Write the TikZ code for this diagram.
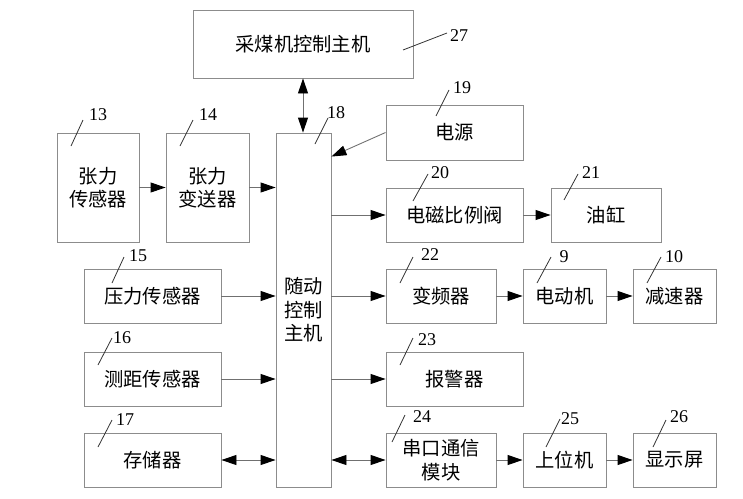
\documentclass[tikz,border=0pt]{standalone}
\usepackage{fontspec}
\setmainfont{Liberation Serif}
\newfontfamily\cjk{Noto Sans CJK SC}
\usetikzlibrary{arrows.meta,calc}
\definecolor{boxgray}{HTML}{8C8C8C}
\definecolor{linegray}{HTML}{707070}
\begin{document}
\begin{tikzpicture}[x=1pt,y=-1pt,
 box/.style={draw=boxgray, line width=0.9pt, inner sep=0pt, align=center, font=\cjk\fontsize{19.3}{23.5}\selectfont},
 conn/.style={draw=linegray, line width=0.9pt, -{Triangle[length=15pt,width=10pt,black]}},
 dconn/.style={draw=linegray, line width=0.9pt, {Triangle[length=15pt,width=10pt,black]}-{Triangle[length=15pt,width=10pt,black]}},
 lead/.style={draw=black!80, line width=0.8pt},
 num/.style={inner sep=0pt, font=\fontsize{18}{18}\selectfont}]
\useasboundingbox (0,0) rectangle (743,498);
% boxes
\node[box, minimum width=220, minimum height=68] (b27) at (303,44) {采煤机控制主机};
\node[box, minimum width=55, minimum height=354] (b18) at (303.5,310) {随动\\控制\\主机};
\node[box, minimum width=137, minimum height=55] (b19) at (454.5,132.5) {电源};
\node[box, minimum width=82, minimum height=109] (b13) at (98,187.5) {张力\\传感器};
\node[box, minimum width=83, minimum height=109] (b14) at (207.5,187.5) {张力\\变送器};
\node[box, minimum width=137, minimum height=54] (b15) at (152.5,296) {压力传感器};
\node[box, minimum width=137, minimum height=54] (b16) at (152.5,379) {测距传感器};
\node[box, minimum width=137, minimum height=54] (b17) at (152.5,460) {存储器};
\node[box, minimum width=137, minimum height=54] (b20) at (454.5,215) {电磁比例阀};
\node[box, minimum width=110, minimum height=54] (b21) at (606,215) {油缸};
\node[box, minimum width=110, minimum height=54] (b22) at (441,296) {变频器};
\node[box, minimum width=83, minimum height=54] (b9) at (564.5,296) {电动机};
\node[box, minimum width=83, minimum height=54] (b10) at (674.5,296) {减速器};
\node[box, minimum width=137, minimum height=54] (b23) at (454.5,379) {报警器};
\node[box, minimum width=110, minimum height=54] (b24) at (441,460) {串口通信\\模块};
\node[box, minimum width=83, minimum height=54] (b25) at (564.5,460) {上位机};
\node[box, minimum width=83, minimum height=54] (b26) at (674.5,460) {显示屏};
% connectors
\draw[dconn] (b27.south) -- (b27.south |- b18.north);
\coordinate (p18) at ($(b18.north east)+(0,24)$);
\draw[conn] (b19.west) -- (p18);
\draw[conn] (b13.east) -- (b14.west);
\draw[conn] (b14.east) -- (b14.east -| b18.west);
\draw[conn] (b15.east) -- (b15.east -| b18.west);
\draw[conn] (b16.east) -- (b16.east -| b18.west);
\draw[dconn] (b17.east) -- (b17.east -| b18.west);
\draw[conn] (b20.west -| b18.east) -- (b20.west);
\draw[conn] (b20.east) -- (b21.west);
\draw[conn] (b22.west -| b18.east) -- (b22.west);
\draw[conn] (b22.east) -- (b9.west);
\draw[conn] (b9.east) -- (b10.west);
\draw[conn] (b23.west -| b18.east) -- (b23.west);
\draw[dconn] (b24.west -| b18.east) -- (b24.west);
\draw[conn] (b24.east) -- (b25.west);
\draw[conn] (b25.east) -- (b26.west);
% leaders and numbers
\draw[lead] (403,50) -- (447,33);  \node[num] (n27) at (459,36) {27};
\draw[lead] (436,116) -- (449,90); \node[num] (n19) at (462,88) {19};
\draw[lead] (315,144) -- (328,118); \node[num] (n18) at (336,113) {18};
\draw[lead] (71,146) -- (83,120);  \node[num] (n13) at (98,115) {13};
\draw[lead] (180,146) -- (193,120); \node[num] (n14) at (208,115) {14};
\draw[lead] (112,283) -- (124,257); \node[num] (n15) at (138,256) {15};
\draw[lead] (98,365) -- (112,338);  \node[num] (n16) at (122,338) {16};
\draw[lead] (98,447) -- (112,420);  \node[num] (n17) at (125,420) {17};
\draw[lead] (413,201) -- (428,174); \node[num] (n20) at (440,173) {20};
\draw[lead] (564,200) -- (578,174); \node[num] (n21) at (591,173) {21};
\draw[lead] (400,283) -- (413,257); \node[num] (n22) at (430,255) {22};
\draw[lead] (537,283) -- (551,257); \node[num] (n9) at (564,257) {9};
\draw[lead] (647,283) -- (661,257); \node[num] (n10) at (674,257) {10};
\draw[lead] (400,365) -- (413,338); \node[num] (n23) at (427,340) {23};
\draw[lead] (392,442) -- (405,415); \node[num] (n24) at (422,417) {24};
\draw[lead] (546,447) -- (560,419); \node[num] (n25) at (570,419) {25};
\draw[lead] (653,447) -- (666,420); \node[num] (n26) at (679,417) {26};
\end{tikzpicture}
\end{document}
